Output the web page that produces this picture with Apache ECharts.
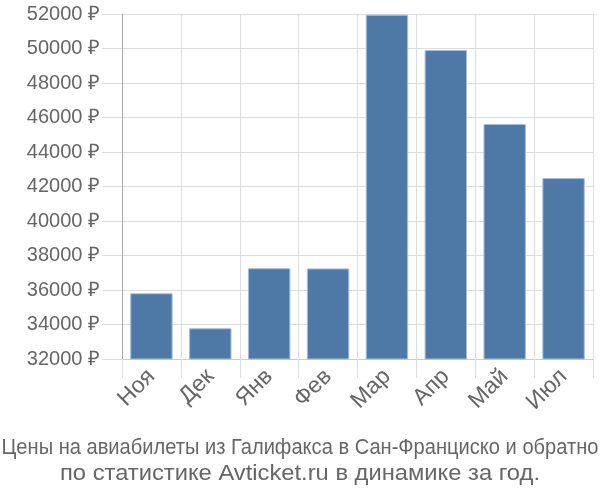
<!DOCTYPE html>
<html><head><meta charset="utf-8">
<script src="https://cdn.jsdelivr.net/npm/echarts@6/dist/echarts.min.js"></script>
<style>html,body{margin:0;padding:0;background:#fff}#c{width:600px;height:500px}</style>
</head><body><div id="c"></div>
<script>
const categories = ['Ноя','Дек','Янв','Фев','Мар','Апр','Май','Июл'];
const prices = [35810, 33780, 37260, 37250, 51960, 49910, 45620, 42490];
const yMin = 32000, yMax = 52000, yStep = 2000;
const titleLine1 = 'Цены на авиабилеты из Галифакса в Сан-Франциско и обратно';
const titleLine2 = 'по статистике Avticket.ru в динамике за год.';

const FONT = '"Liberation Sans", Arial, sans-serif';
function measure(txt, size){
  const cv = document.createElement('canvas').getContext('2d');
  cv.font = size + 'px ' + FONT;
  return cv.measureText(txt).width;
}
const t1Size = 22, t2Size = 22;
const sx1 = 597 / measure(titleLine1, t1Size);
const sx2 = 480 / measure(titleLine2, t2Size);

const chart = echarts.init(document.getElementById('c'), null, {renderer:'canvas'});
chart.setOption({
  animation:false,
  graphic:[
    {type:'text',x:300,y:437,scaleX:sx1,style:{text:titleLine1,fontFamily:FONT,fontSize:t1Size,fill:'#666',align:'center',verticalAlign:'top'}},
    {type:'text',x:300,y:463,scaleX:sx2,style:{text:titleLine2,fontFamily:FONT,fontSize:t2Size,fill:'#666',align:'center',verticalAlign:'top'}}
  ],
  grid:{left:122,right:7,top:14,bottom:141,containLabel:false},
  xAxis:{type:'category',data:categories,
    axisLine:{lineStyle:{color:'#ccc'}},
    axisTick:{show:true,length:19,lineStyle:{color:'#ddd'}},
    splitLine:{show:true,lineStyle:{color:'#ddd'}},
    axisLabel:{rotate:45,fontSize:23,color:'#666',fontFamily:FONT,margin:14}
  },
  yAxis:{type:'value',min:yMin,max:yMax,interval:yStep,
    axisLine:{show:true,lineStyle:{color:'#aaa'}},
    axisTick:{show:true,length:20,lineStyle:{color:'#ddd'}},
    splitLine:{show:true,lineStyle:{color:'#ddd'}},
    axisLabel:{fontSize:20,color:'#666',fontFamily:FONT,margin:22,formatter:v=>v+' ₽'}
  },
  series:[{type:'bar',data:prices,barWidth:'72%',
    itemStyle:{color:'#4e78a6',borderColor:'#a9bdd6',borderWidth:1}}]
});
</script></body></html>
